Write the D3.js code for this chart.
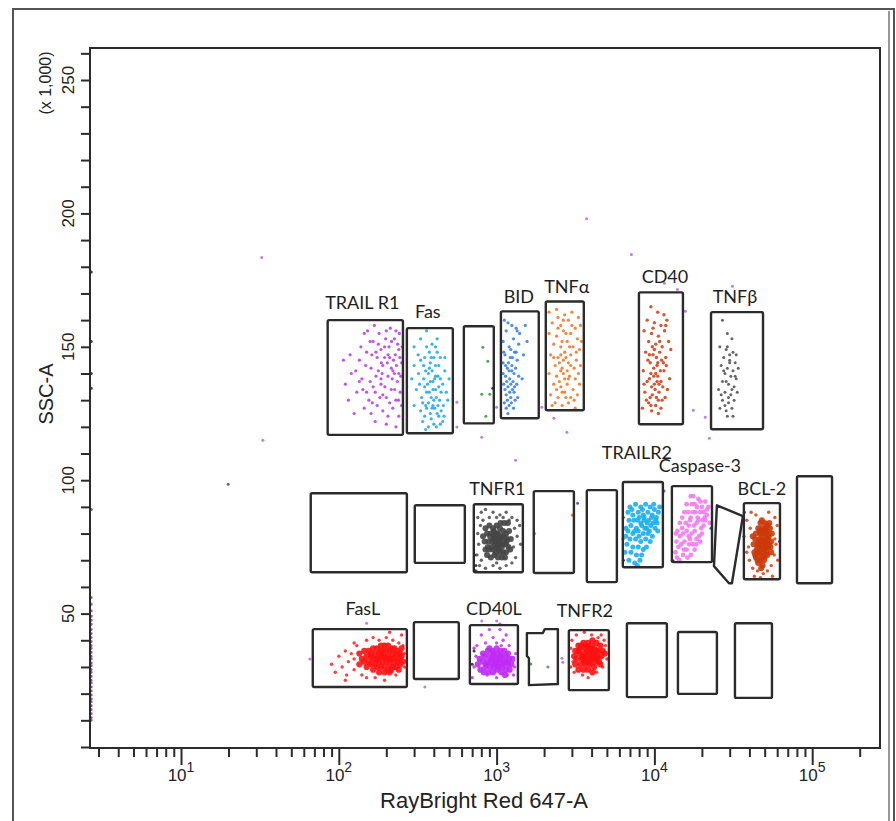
<!DOCTYPE html>
<html><head><meta charset="utf-8">
<script src="https://cdn.jsdelivr.net/npm/d3@7"></script>
<style>body{margin:0;background:#fff}</style>
</head><body>
<svg id="chart" width="896" height="821"></svg>
<script>
// ---------- DATA ----------
const xMajorTicks = [10, 100, 1000, 10000, 100000];
const xTickExponents = ["1", "2", "3", "4", "5"];
const yTickLabels = [50, 100, 150, 200, 250];
const xTitle = "RayBright Red 647-A";
const yTitle = "SSC-A";
const yUnit = "(x 1,000)";

// rectangular gates: [label, x0, x1, y0, y1]  (x: fluorescence, y: SSC x1000)
const rectGates = [
  ["TRAIL R1", 85, 255, 117, 160],
  ["Fas", 270, 528, 117.6, 157],
  ["", 620, 960, 121.3, 157.7],
  ["BID", 1065, 1850, 123.2, 163.3],
  ["TNFα", 2050, 3570, 126.2, 167],
  ["CD40", 7980, 15170, 121, 170.4],
  ["TNFβ", 22850, 48800, 119.1, 163],
  ["", 66.4, 270, 65.5, 95.1],
  ["", 303, 629, 69, 90.6],
  ["TNFR1", 717, 1467, 65.5, 91],
  ["", 1720, 3090, 65.2, 95.9],
  ["", 3730, 5785, 61.8, 96.3],
  ["TRAILR2", 6310, 11320, 67.4, 99.3],
  ["Caspase-3", 12910, 23180, 69.3, 97.8],
  ["BCL-2", 36900, 62500, 62.9, 91.4],
  ["", 80100, 133600, 61.4, 101.5],
  ["FasL", 68.4, 270, 22.5, 44.2],
  ["", 299, 576, 25.5, 46.8],
  ["CD40L", 677, 1365, 23.6, 45.7],
  ["TNFR2", 2870, 5147, 21.3, 43.8],
  ["", 6696, 12000, 18.7, 46.4],
  ["", 14100, 24900, 19.9, 43.1],
  ["", 32400, 55600, 18.4, 46.4]
];
// polygon gates
const polyGateA = [[24900,90.6],[36400,86.5],[31000,61.4],[29700,61.4],[23850,67.8]];
const polyGateB = [[1556,42.7],[1964,42.7],[2022,44.2],[2445,44.2],[2445,23.6],[1603,23.2],[1603,33.3],[1556,34.1]];

// populations (x: fluorescence, y: SSC x1000)
const trailR1Pts = [[150,148],[165,152],[180,155],[195,150],[210,146],[225,153],[240,149],[250,144],[135,145],[120,140],[140,138],[160,142],[175,146],[190,143],[205,139],[220,141],[235,137],[245,133],[230,130],[215,134],[200,131],[185,136],[170,133],[155,130],[145,127],[130,133],[115,130],[125,125],[160,125],[175,128],[190,126],[205,124],[220,127],[240,124],[250,128],[138,150],[152,156],[168,158],[185,149],[198,153],[212,157],[228,147],[242,155],[110,136],[118,147],[128,141],[142,134],[158,137],[172,139],[188,140],[203,144],[218,138],[232,143],[247,139],[162,147],[178,151],[195,146],[208,150],[222,145],[236,151],[148,143],[182,131],[196,135],[210,129],[226,134],[239,130],[165,135],[150,133],[135,137],[252,150],[244,146],[230,156],[216,152],[200,156],[186,144],[172,148],[158,152],[145,155],[170,122],[200,121],[230,120],[185,138],[215,142],[190,132],[205,147],[178,141],[225,140],[240,140],[163,129],[107,145]];
const fasPts = [[300,150],[330,153],[360,156],[390,151],[420,148],[350,146],[380,144],[410,143],[440,146],[470,141],[320,140],[345,138],[370,140],[395,137],[425,139],[455,136],[480,133],[310,134],[335,131],[360,133],[385,131],[410,134],[435,130],[460,128],[490,130],[300,128],[330,126],[355,128],[380,125],[405,127],[430,124],[455,122],[340,122],[370,120],[400,121],[365,136],[390,141],[415,131],[345,143],[375,148],[400,146],[430,143],[360,127],[395,128],[420,125],[445,133],[330,145],[350,135],[375,133],[405,138],[440,138],[470,146],[318,147],[420,153],[380,137],[355,141],[395,134],[430,135],[350,124],[415,120],[385,123],[300,143],[445,126],[465,124],[385,146],[410,150],[370,129],[340,129],[425,128],[360,150],[400,130],[440,121],[325,136],[390,127],[355,119],[500,138],[290,138],[410,139],[375,142]];
const bidPts = [[1120,160],[1180,159],[1250,158],[1330,157],[1400,155],[1150,156],[1100,152],[1200,150],[1280,153],[1380,151],[1130,147],[1220,146],[1300,148],[1100,144],[1170,142],[1250,143],[1350,145],[1140,139],[1210,138],[1290,140],[1380,139],[1110,136],[1180,135],[1260,134],[1340,136],[1150,132],[1230,131],[1310,130],[1120,129],[1200,128],[1280,127],[1180,125],[1250,141],[1160,137],[1230,149],[1320,142],[1190,144],[1270,137],[1130,134],[1210,133],[1290,133],[1360,131],[1100,140],[1240,129],[1170,130],[1330,148],[1260,146],[1200,141],[1140,143],[1300,135],[1480,147],[1150,127],[1230,136],[1110,148],[1350,156],[1520,158],[1450,138],[1560,152]];
const tnfaPts = [[2150,163],[2400,164],[2700,162],[3000,163],[3300,161],[2250,159],[2550,158],[2850,160],[3150,157],[3400,158],[2150,155],[2400,154],[2650,156],[2950,155],[3250,153],[2300,151],[2550,150],[2800,152],[3050,150],[3350,149],[2200,147],[2450,146],[2700,148],[2950,147],[3200,145],[2350,143],[2600,142],[2850,144],[3100,142],[3400,143],[2150,140],[2400,139],[2650,140],[2900,139],[3150,138],[2300,136],[2550,135],[2800,136],[3050,134],[3350,136],[2200,132],[2450,131],[2700,133],[2950,131],[3250,132],[2350,129],[2600,128],[2850,129],[3100,130],[2500,144],[2750,146],[2600,152],[2900,150],[2450,157],[3000,158],[2700,138],[2500,137],[2800,141],[2650,145],[2750,155],[3200,148],[2300,146],[2550,141],[2950,143],[3300,140],[2600,133],[2400,134],[2750,131],[3150,127],[2250,128],[2650,160],[3450,152],[2850,138],[2550,147],[2450,161]];
const cd40Pts = [[9500,165],[10500,163],[11500,162],[9000,160],[10000,159],[11000,158],[12000,160],[8600,156],[9600,155],[10600,154],[11600,156],[9200,152],[10200,151],[11200,150],[12300,152],[8800,148],[9800,147],[10800,148],[11800,146],[9400,144],[10400,143],[11400,144],[8500,141],[9500,140],[10500,139],[11500,141],[12500,138],[9000,137],[10000,136],[11000,137],[8700,133],[9700,132],[10700,133],[11700,131],[9200,129],[10200,128],[11200,130],[8400,127],[9600,126],[10600,125],[9900,142],[10300,146],[9700,150],[10900,141],[10100,134],[9300,138],[11300,135],[9800,157],[10400,137],[9400,131],[10800,152],[11900,143],[10000,149],[10600,130],[9100,145],[10200,140],[12100,134],[8900,130],[11000,127],[9600,135],[10500,144],[9900,139],[10700,136],[11100,145],[9300,147],[12700,149],[9500,128],[10300,131],[11800,158],[8600,136]];
const tnfbPts = [[27000,160],[29000,155],[31000,153],[26000,150],[28500,149],[31500,148],[33000,147],[27500,146],[30000,145],[32500,144],[26500,143],[29000,142],[31500,141],[28000,140],[30500,139],[33000,138],[27000,137],[29500,136],[32000,135],[25500,134],[28000,133],[30500,132],[33500,133],[27000,130],[29500,129],[32000,130],[26000,127],[28500,126],[31000,127],[29000,124],[30000,144],[28500,137],[31000,134],[29500,131],[27500,141],[32500,139],[30000,147],[26500,132],[31500,124],[29000,150],[34000,142],[28000,128]];
const tnfr1Core = [[850,82],[900,83],[950,82],[1000,83],[1050,82],[1100,81],[1150,80],[1200,81],[820,79],[870,80],[920,80],[970,79],[1020,80],[1070,79],[1120,78],[1170,78],[1230,78],[840,77],[890,77],[940,77],[990,77],[1040,76],[1090,76],[1140,76],[1190,75],[850,74],[900,74],[950,74],[1000,75],[1050,73],[1100,73],[1150,73],[1220,74],[870,72],[920,71],[970,72],[1020,71],[1080,71],[1130,71],[960,78],[1010,78],[1060,77],[930,75],[980,76],[1030,74],[1080,75],[1110,79],[960,81],[1000,80],[1040,78],[990,73],[910,79],[1160,77],[880,75],[1060,84],[1120,84],[1180,84]];
const tnfr1Halo = [[760,86],[800,88],[850,89],[950,88],[1050,87],[1150,88],[1250,86],[1350,85],[1300,82],[1350,79],[1280,75],[1320,71],[1250,69],[1150,68],[1050,67],[950,68],[850,67],[780,68],[750,72],[770,76],[760,80],[790,83],[900,86],[1000,86],[1100,86],[1200,85],[800,70],[1000,69],[1400,83],[740,66],[1420,76],[820,85]];
const trailR2Pts = [[7000,90],[7600,91],[8200,90],[8800,91],[9400,90],[10000,89],[10600,88],[6800,88],[7300,87],[7900,88],[8500,87],[9100,88],[9700,87],[10300,86],[6900,85],[7400,85],[8000,86],[8600,85],[9200,85],[9800,84],[10400,84],[7100,83],[7700,82],[8300,83],[8900,82],[9500,83],[10100,82],[6800,81],[7300,80],[7900,81],[8500,80],[9100,80],[9700,79],[7000,78],[7600,78],[8200,77],[8800,78],[9400,77],[6700,76],[7300,75],[7900,75],[8500,74],[7100,73],[7700,72],[8300,72],[6900,70],[7500,69],[8100,70],[8600,86],[8200,84],[7800,85],[9000,84],[8700,82],[8000,79],[7500,81],[9300,81],[8400,89],[9600,86],[7200,89],[6600,82],[10800,90],[10500,81],[6500,73],[7800,68],[10200,85],[8900,75],[9900,91],[6600,79]];
const casp3Pts = [[17000,94],[19000,93],[21000,92],[16000,91],[18000,91],[20000,90],[22000,90],[15500,88],[17500,88],[19500,88],[21500,87],[15000,86],[17000,86],[19000,85],[21000,85],[14500,84],[16500,83],[18500,84],[20500,83],[14000,81],[16000,81],[18000,81],[20000,80],[14500,79],[16500,79],[18500,78],[13800,77],[15500,77],[17500,76],[19500,77],[14200,75],[16000,74],[18000,74],[13600,73],[15200,72],[17000,72],[14400,70],[16200,71],[18800,86],[17800,83],[16800,85],[19800,82],[15800,84],[18200,88],[20500,88],[17200,80],[15200,80],[19200,79],[16600,76],[14800,76],[18600,90],[16400,88],[20800,86],[13700,80],[22500,84],[17600,94],[15400,74],[13900,71],[19600,92],[21500,89],[16800,78],[18400,76],[15000,82],[20200,85],[17300,91]];
const bcl2Core = [[47000,84],[50000,84],[52000,83],[45500,82],[48500,82],[51500,81],[54000,82],[44000,80],[47000,80],[50000,80],[53000,79],[55500,80],[43500,78],[46500,78],[49500,77],[52500,78],[55000,77],[42500,76],[45500,75],[48500,76],[51500,75],[54500,75],[43000,73],[46000,73],[49000,73],[52000,72],[44000,71],[47000,70],[50000,71],[45500,69],[48500,68],[46000,77],[48000,79],[50500,78],[47500,74],[49500,75],[51000,77],[45000,76],[47000,72],[53000,76],[44500,74],[48500,71],[50500,82],[46500,81],[52000,80],[49000,81],[51500,73],[43500,72],[45000,70],[47500,67],[53500,84],[48000,85],[42000,79],[55000,73],[49500,70],[46000,75],[50000,74],[48000,77],[52500,75]];
const bcl2Halo = [[41000,88],[44000,87],[53000,88],[58000,86],[60000,83],[58000,78],[57500,72],[55000,68],[52000,66],[49000,65],[45000,66],[42000,67],[40000,70],[39500,75],[40500,82],[38500,85],[60500,70],[56000,64],[43000,64],[47000,63.5],[59000,76],[38500,73]];
const fasLCore = [[135,35],[145,36],[155,36],[165,37],[175,37],[185,38],[195,38],[205,38],[215,37],[225,37],[235,36],[245,35],[140,33],[150,34],[160,34],[170,35],[180,35],[190,36],[200,36],[210,36],[220,35],[230,34],[240,33],[250,34],[135,31],[145,32],[155,32],[165,33],[175,33],[185,34],[195,34],[205,34],[215,33],[225,32],[235,32],[245,31],[150,30],[160,31],[170,31],[180,32],[190,32],[200,32],[210,31],[220,30],[230,30],[240,29],[165,29],[175,30],[185,30],[195,30],[205,29],[215,29],[180,28],[195,28],[210,28],[185,36],[170,33],[200,33],[230,35],[190,34],[160,35],[210,33],[220,33],[250,37],[255,32]];
const fasLHalo = [[125,33],[120,35],[90,31],[100,34],[105,30],[110,36],[115,32],[112,27],[125,29],[130,38],[140,27],[150,40],[165,41],[180,40],[200,41],[220,40],[240,39],[250,42],[255,38],[150,26],[170,26],[195,25],[230,27],[260,35],[95,28],[125,39],[110,25],[260,30],[210,43]];
const cd40LCore = [[820,35],[880,36],[940,36],[1000,37],[1060,36],[1120,36],[1180,35],[780,33],[840,34],[900,34],[960,35],[1020,35],[1080,34],[1140,34],[1200,33],[1260,33],[760,31],[820,32],[880,32],[940,33],[1000,33],[1060,32],[1120,32],[1180,31],[1240,31],[790,29],[850,30],[910,30],[970,31],[1030,30],[1090,30],[1150,29],[1210,29],[830,28],[890,28],[950,28],[1010,29],[1070,28],[1130,27],[920,32],[980,32],[1040,33],[960,30],[1100,31],[860,31],[1000,31],[1160,32],[900,37],[1050,34],[950,34]];
const cd40LHalo = [[1070,38],[1300,30],[720,30],[740,34],[1320,35],[870,27],[1170,27],[900,44],[1050,44],[800,42],[950,41],[1100,40],[1000,39],[850,39],[1200,38],[750,38],[1150,42],[700,26],[1280,27],[720,37],[1000,26],[1050,46]];
const tnfr2Core = [[3300,38],[3550,39],[3800,39],[4050,40],[4300,39],[4550,38],[3150,36],[3400,37],[3650,37],[3900,37],[4150,37],[4400,36],[4700,36],[3100,34],[3350,35],[3600,35],[3850,35],[4100,35],[4350,34],[4600,34],[4850,35],[3200,33],[3450,33],[3700,33],[3950,33],[4200,32],[4450,32],[3150,31],[3400,31],[3650,31],[3900,31],[4150,30],[3300,29],[3550,29],[3800,29],[4050,28],[3750,36],[3500,34],[4000,34],[4250,36],[3600,32],[3850,32],[4300,33],[3450,38],[4550,31],[3700,38],[4000,38],[3950,36],[3650,34],[4200,34],[3300,36]];
const tnfr2Halo = [[4900,38],[3050,32],[3200,42],[3600,43],[4000,42],[4400,41],[4800,40],[3000,40],[2950,37],[2950,30],[3100,28],[3500,27],[4300,28],[4700,30],[5000,33],[3800,26],[4600,42]];

// stray events
const strayViolet = [[32.5,183.5],[33,115],[1320,107.5],[560,129.2],[560,119.9],[805,116.1],[1000,127.3],[1935,127.3],[2307,123.2],[2790,118],[11570,173.8],[14000,171.5],[15700,163.3],[31200,172.7],[17650,126.2],[21000,123.6],[22300,115.7],[351,22.5],[150,46.4],[65.5,33],[805,47.2],[1000,47.2],[2590,33.3],[2630,31.8],[3720,198],[7150,184.6]];
const strayGreen = [[818,149.8],[880,144.6],[805,132.2],[905,132.2],[855,124],[1648,31.1],[2113,30]];
const strayOrange = [[3030,86.9],[1740,80]];
const strayBlue = [[3260,91.4],[2.7,89],[19.9,98.5],[11500,96],[22800,82],[62000,77]];
const strayDark = [[946,134.5],[2.7,178],[2.7,152],[2.7,140],[2.7,134.5],[725,72],[740,68],[730,66],[6350,86],[6330,78],[6360,70],[13000,70],[13200,69.5],[37200,88],[37000,79],[720,36],[700,31]];
const axisPile = [[2.7,56],[2.7,53.5],[2.7,51],[2.7,49],[2.7,47.5],[2.7,46],[2.7,44],[2.7,42.5],[2.7,41],[2.7,39.5],[2.7,38],[2.7,37],[2.7,35.5],[2.7,34],[2.7,33],[2.7,31.5],[2.7,30.5],[2.7,29],[2.7,28],[2.7,26.5],[2.7,25],[2.7,24],[2.7,22.5],[2.7,21],[2.7,19.5],[2.7,18],[2.7,17],[2.7,15.5],[2.7,14],[2.7,12.5],[2.7,11],[2.7,10]];

// ---------- STYLE / LAYOUT ----------
const populations = [
  {pts: strayViolet, color: "#b872d8", r: 1.5},
  {pts: strayGreen, color: "#3f9a3f", r: 1.5},
  {pts: strayOrange, color: "#e07020", r: 1.6},
  {pts: strayBlue, color: "#3a50c8", r: 1.5},
  {pts: axisPile, color: "#9a2cc4", r: 1.4},
  {pts: trailR1Pts, color: "#b844e8", r: 1.6},
  {pts: fasPts, color: "#22aae8", r: 1.6},
  {pts: bidPts, color: "#3a80e6", r: 1.6},
  {pts: tnfaPts, color: "#f27828", r: 1.6},
  {pts: cd40Pts, color: "#d2441c", r: 1.7},
  {pts: tnfbPts, color: "#555555", r: 1.5},
  {pts: tnfr1Halo, color: "#555555", r: 1.7},
  {pts: tnfr1Core, color: "#454545", r: 3.0},
  {pts: trailR2Pts, color: "#19aef0", r: 2.5},
  {pts: casp3Pts, color: "#f47af2", r: 2.4},
  {pts: bcl2Halo, color: "#d24a18", r: 1.7},
  {pts: bcl2Core, color: "#cc3808", r: 3.0},
  {pts: fasLHalo, color: "#ff2a2a", r: 1.7},
  {pts: fasLCore, color: "#ff1212", r: 3.1},
  {pts: cd40LHalo, color: "#c43cf2", r: 1.7},
  {pts: cd40LCore, color: "#c02af4", r: 3.1},
  {pts: tnfr2Halo, color: "#ff2a2a", r: 1.7},
  {pts: tnfr2Core, color: "#ff1010", r: 3.1},
  {pts: strayDark, color: "#2a2a2a", r: 1.5}
];
// label offsets relative to gate top-centre (px)
const labelOffsets = {
  "TRAIL R1": [-3, -11], "Fas": [-2, -10], "BID": [-1, -8], "TNFα": [2, -8],
  "CD40": [4, -9], "TNFβ": [-2, -9], "TNFR1": [-1, -9], "TRAILR2": [-6, -23],
  "Caspase-3": [8, -14], "BCL-2": [0, -8], "FasL": [3, -14], "CD40L": [0, -10], "TNFR2": [-4, -13]
};

// ---------- DRAW ----------
const svg = d3.select("#chart");
const pLeft = 90, pRight = 880, pTop = 48, pBottom = 748;
const x = d3.scaleLog().domain([2.65, 269000]).range([pLeft, pRight]);
const y = d3.scaleLinear().domain([0, 262]).range([747, pTop]);
const ink = "#2b2b2b";

// outer frame
svg.append("rect").attr("x", 13).attr("y", 9).attr("width", 881).attr("height", 830)
  .attr("fill", "none").attr("stroke", "#555").attr("stroke-width", 2);
svg.append("line").attr("x1", 889).attr("x2", 889).attr("y1", 11).attr("y2", 821)
  .attr("stroke", "#777").attr("stroke-width", 1.5);

// clip
svg.append("clipPath").attr("id", "clip").append("rect")
  .attr("x", pLeft).attr("y", pTop).attr("width", pRight - pLeft).attr("height", pBottom - pTop);

const dots = svg.append("g").attr("clip-path", "url(#clip)");
populations.forEach(p => {
  dots.append("g").selectAll("circle").data(p.pts).join("circle")
    .attr("cx", d => x(d[0])).attr("cy", d => y(d[1])).attr("r", p.r)
    .attr("fill", p.color).attr("fill-opacity", 0.9);
});

// gates
const gatesG = svg.append("g").attr("fill", "none").attr("stroke", ink)
  .attr("stroke-width", 2.4).attr("stroke-linejoin", "round");
gatesG.selectAll("rect").data(rectGates).join("rect")
  .attr("x", d => x(d[1])).attr("y", d => y(d[4]))
  .attr("width", d => x(d[2]) - x(d[1])).attr("height", d => y(d[3]) - y(d[4]))
  .attr("rx", 1.5);
const line = d3.line().x(d => x(d[0])).y(d => y(d[1])).curve(d3.curveLinearClosed);
gatesG.selectAll("path").data([polyGateA, polyGateB]).join("path").attr("d", line);

// gate labels
svg.append("g").selectAll("text").data(rectGates.filter(d => d[0])).join("text")
  .attr("x", d => (x(d[1]) + x(d[2])) / 2 + labelOffsets[d[0]][0])
  .attr("y", d => y(d[4]) + labelOffsets[d[0]][1])
  .attr("text-anchor", "middle")
  .attr("font-family", "Lato, 'Open Sans', sans-serif").attr("font-size", 18)
  .attr("fill", "#1e1e1e").text(d => d[0]);

// plot frame
svg.append("rect").attr("x", pLeft).attr("y", pTop).attr("width", pRight - pLeft).attr("height", pBottom - pTop)
  .attr("fill", "none").attr("stroke", ink).attr("stroke-width", 2);

// y axis ticks
const yAxis = d3.axisLeft(y).tickValues(d3.range(0, 261, 10)).tickSize(9).tickFormat("");
const gy = svg.append("g").attr("transform", `translate(${pLeft},0)`).call(yAxis);
gy.select(".domain").remove();
gy.selectAll("line").attr("stroke", ink).attr("stroke-width", 2);

const axisFont = "'Liberation Sans', Arial, sans-serif";
svg.append("g").selectAll("text").data(yTickLabels).join("text")
  .attr("transform", d => `translate(74,${y(d)}) rotate(-90)`)
  .attr("text-anchor", "middle").attr("font-family", axisFont).attr("font-size", 17)
  .attr("fill", "#222").text(d => d);

svg.append("text").attr("transform", "translate(51,83) rotate(-90)")
  .attr("text-anchor", "middle").attr("font-family", axisFont).attr("font-size", 16)
  .attr("fill", "#222").text(yUnit);
svg.append("text").attr("transform", "translate(53,394) rotate(-90)")
  .attr("text-anchor", "middle").attr("font-family", axisFont).attr("font-size", 20)
  .attr("fill", "#222").text(yTitle);

// x axis ticks
const minorTicks = [1, 10, 100, 1000, 10000, 100000]
  .flatMap(d => d3.range(2, 10).map(m => m * d))
  .filter(v => v >= 3 && v <= 260000);
const gx = svg.append("g").attr("transform", `translate(0,${pBottom})`)
  .call(d3.axisBottom(x).tickValues(minorTicks).tickSize(9).tickFormat(""));
gx.select(".domain").remove();
const gx2 = svg.append("g").attr("transform", `translate(0,${pBottom})`)
  .call(d3.axisBottom(x).tickValues(xMajorTicks).tickSize(17).tickFormat(""));
gx2.select(".domain").remove();
svg.selectAll(".tick line").attr("stroke", ink).attr("stroke-width", 2);

const xl = svg.append("g").selectAll("text").data(xMajorTicks).join("text")
  .attr("x", d => x(d)).attr("y", 781).attr("text-anchor", "middle")
  .attr("font-family", axisFont).attr("fill", "#222");
xl.append("tspan").attr("font-size", 17).text("10");
xl.append("tspan").attr("font-size", 14).attr("dy", -9).text((d, i) => xTickExponents[i]);

svg.append("text").attr("x", 484).attr("y", 808).attr("text-anchor", "middle")
  .attr("font-family", axisFont).attr("font-size", 22).attr("fill", "#222").text(xTitle);
</script>
</body></html>
